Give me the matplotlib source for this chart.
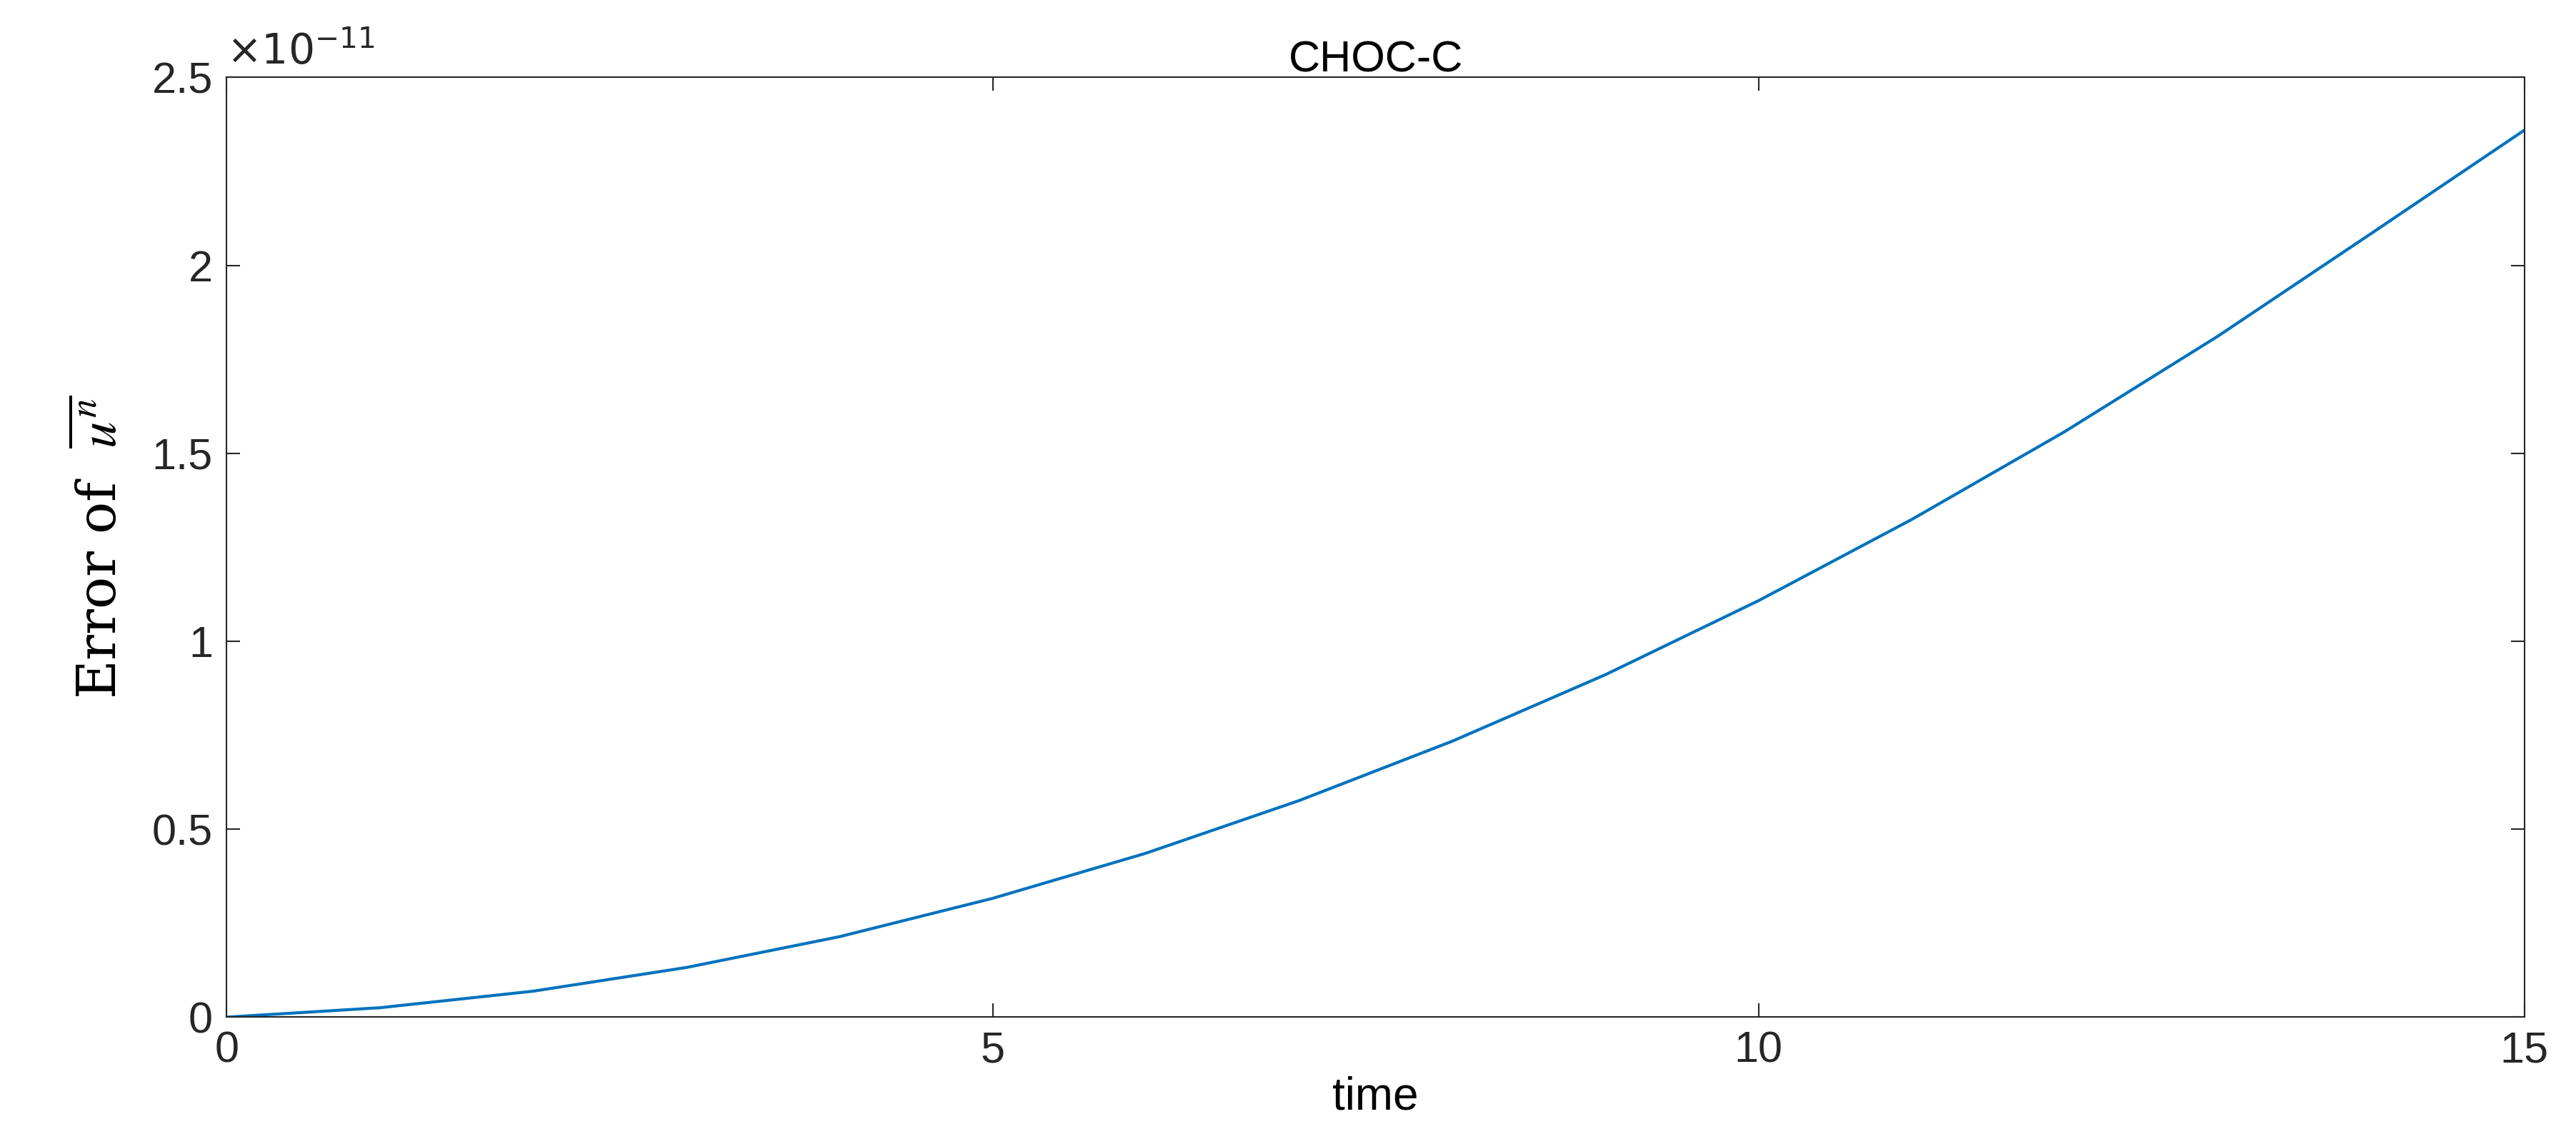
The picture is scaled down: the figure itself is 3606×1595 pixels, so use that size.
import matplotlib
matplotlib.use("Agg")
import matplotlib.pyplot as plt
from matplotlib.ticker import FuncFormatter
import numpy as np

time = [0, 1, 2, 3, 4, 5, 6, 7, 8, 9, 10, 11, 12, 13, 14, 15]
error = [0.0, 0.025, 0.069, 0.132, 0.214, 0.316, 0.436, 0.576, 0.734, 0.911,
         1.108, 1.324, 1.558, 1.812, 2.085, 2.36]
error = np.array(error) * 1e-11

plt.rcParams['font.family'] = ['Liberation Sans', 'DejaVu Sans']
fig = plt.figure(figsize=(36.06, 15.95), dpi=100)
ax = fig.add_axes([0.088, 0.107, 0.892, 0.825])
ax.plot(time, error, color='#0072BD', lw=3)
ax.set_xlim(0, 15)
ax.set_ylim(0, 2.5e-11)
ax.set_xticks([0, 5, 10, 15])
ax.set_yticks(np.arange(0, 2.51, 0.5) * 1e-11)
ax.yaxis.set_major_formatter(FuncFormatter(lambda v, p: f'{round(v / 1e-11, 2):g}'))
ax.tick_params(direction='in', labelsize=44, length=14, width=1.5, pad=14,
               top=True, right=True, colors='#262626')
ax.text(0.0, 1.005, r'$\times10^{-11}$', transform=ax.transAxes, fontsize=42,
        ha='left', va='bottom', color='#262626', math_fontfamily='dejavusans')
for s in ax.spines.values():
    s.set_linewidth(1.5)
    s.set_color('#262626')
ax.set_title('CHOC-C', fontsize=44, pad=6)
ax.set_xlabel('time', fontsize=46, labelpad=4)
ax.set_ylabel(r'Error of  $\overline{u^n}$', fontsize=54, family='serif',
              math_fontfamily='stix', labelpad=24)
fig.savefig('out.png', dpi=100)
